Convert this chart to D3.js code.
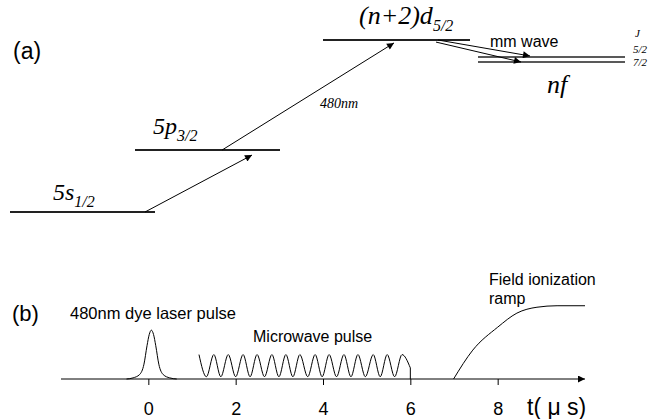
<!DOCTYPE html>
<html>
<head>
<meta charset="utf-8">
<script src="https://cdn.jsdelivr.net/npm/d3@7"></script>
<style>
  body { margin: 0; background: #fff; }
</style>
</head>
<body>
<div id="chart"></div>
<script>
// ---- panel (a): energy levels (schematic units) ----
const levelNames = ["5s", "5p", "(n+2)d", "nf", "nf"];
const levelSubs = ["1/2", "3/2", "5/2", "5/2", "7/2"];
const levelEnergy = [0, 36, 100, 90.1, 87.2];
const levelFrom = [10, 135, 323, 478, 478];
const levelTo = [155, 280, 470, 625, 625];

// transitions: [x, energy] start and end
const arrowStartX = [145, 222, 438, 436];
const arrowStartE = [0, 36, 100, 98.8];
const arrowEndX = [252, 394, 530, 521];
const arrowEndE = [33.1, 98.3, 90.7, 87.2];

// ---- panel (b): timing, t in microseconds ----
const tickValues = [0, 2, 4, 6, 8];

const pulseT = [-0.5, -0.35, -0.2, -0.1, -0.03, 0.02, 0.07, 0.12, 0.17, 0.24, 0.34, 0.49, 0.65];
const pulseV = [0, 0.015, 0.06, 0.2, 0.45, 0.6, 0.66, 0.6, 0.45, 0.2, 0.06, 0.015, 0];

const mwT = [1.16, 1.33, 1.50, 1.66, 1.83, 2.00, 2.17, 2.33, 2.49, 2.66, 2.83, 2.99, 3.15, 3.31,
  3.47, 3.65, 3.82, 3.98, 4.14, 4.31, 4.48, 4.64, 4.80, 4.97, 5.15, 5.31, 5.47, 5.64, 5.81, 6.0];
const mwV = [0.33, 0.03, 0.33, 0.03, 0.33, 0.03, 0.33, 0.03, 0.33, 0.03, 0.33, 0.03, 0.33, 0.03,
  0.33, 0.03, 0.33, 0.03, 0.33, 0.03, 0.33, 0.03, 0.33, 0.03, 0.33, 0.03, 0.33, 0.03, 0.33, 0.15];

const rampT = [6.99, 7.43, 8.0, 8.44, 8.9, 9.36, 10.0];
const rampV = [0, 0.39, 0.70, 0.89, 0.97, 0.99, 0.99];

var width = 665, height = 419;
var SANS = "'Liberation Sans', Arial, Helvetica, sans-serif";
var SERIF = "'Liberation Serif', 'Times New Roman', 'DejaVu Serif', serif";

var svg = d3.select("#chart")
  .append("svg")
  .attr("width", width)
  .attr("height", height);

var defs = svg.append("defs");
defs.append("marker") // filled arrow head
  .attr("id", "head")
  .attr("viewBox", "0 0 10 10")
  .attr("refX", 10).attr("refY", 5)
  .attr("markerUnits", "userSpaceOnUse")
  .attr("markerWidth", 10).attr("markerHeight", 7)
  .attr("orient", "auto")
  .append("path")
  .attr("d", "M0,0L10,5L0,10z")
  .attr("fill", "#000");

function sansText(xp, yp, size, txt) {
  return svg.append("text")
    .attr("x", xp).attr("y", yp)
    .attr("font-family", SANS)
    .attr("font-size", size)
    .attr("fill", "#000")
    .text(txt);
}

function serifText(xp, yp, size) {
  return svg.append("text")
    .attr("x", xp).attr("y", yp)
    .attr("font-family", SERIF)
    .attr("font-style", "italic")
    .attr("font-size", size)
    .attr("fill", "#000");
}

// scales for panel a
var xA = d3.scaleLinear().domain([0, 665]).range([0, 665]);
var yA = d3.scaleLinear().domain([0, 100]).range([212, 40]);

sansText(13, 59, 23, "(a)");

svg.selectAll(".level") // levels
  .data(levelEnergy)
  .enter()
  .append("line")
  .attr("class", "level")
  .attr("x1", (d, i) => xA(levelFrom[i]))
  .attr("x2", (d, i) => xA(levelTo[i]))
  .attr("y1", d => yA(d))
  .attr("y2", d => yA(d))
  .attr("stroke", "#222")
  .attr("stroke-width", (d, i) => i < 3 ? 2 : 1.5);

svg.selectAll(".trans") // transitions
  .data(arrowStartX)
  .enter()
  .append("line")
  .attr("class", "trans")
  .attr("x1", d => xA(d))
  .attr("y1", (d, i) => yA(arrowStartE[i]))
  .attr("x2", (d, i) => xA(arrowEndX[i]))
  .attr("y2", (d, i) => yA(arrowEndE[i]))
  .attr("stroke", "#000")
  .attr("stroke-width", 1)
  .attr("marker-end", "url(#head)");

// level labels
var labelPos = [[53, 200, 24], [153, 134, 24], [359, 24, 26]];
labelPos.forEach((p, i) => {
  var t = serifText(p[0], p[1], p[2]);
  t.append("tspan").text(levelNames[i]);
  t.append("tspan").attr("font-size", 16).attr("dy", 7).text(levelSubs[i]);
});

serifText(547, 93, 26).text(levelNames[3]);

// J labels at the right
serifText(635, 37, 11).text("J");
serifText(633, 53, 11).text(levelSubs[3]);
serifText(633, 66, 11).text(levelSubs[4]);

serifText(320, 108, 14).text("480nm");

sansText(490, 47, 16, "mm wave");

// ---- panel b ----
var x = d3.scaleLinear().domain([-2, 10]).range([61, 585]);
var y = d3.scaleLinear().domain([0, 1]).range([379, 305]);

sansText(12, 321, 22, "(b)");

var axis = svg.append("g") // time axis
  .attr("transform", `translate(0,${y(0)})`)
  .call(d3.axisBottom(x).tickValues(tickValues).tickSize(6).tickSizeOuter(0));
axis.select(".domain").remove();
axis.selectAll(".tick line").attr("stroke", "#000");
axis.selectAll(".tick text")
  .attr("font-family", SANS)
  .attr("font-size", 18)
  .attr("fill", "#000")
  .attr("y", 36).attr("dy", 0);
axis.attr("font-family", SANS).attr("font-size", 18);

svg.append("line")
  .attr("x1", x(-2)).attr("x2", x(10))
  .attr("y1", y(0)).attr("y2", y(0))
  .attr("stroke", "#000")
  .attr("stroke-width", 1)
  .attr("marker-end", "url(#head)");

var line = d3.line()
  .x(d => x(d[0]))
  .y(d => y(d[1]))
  .curve(d3.curveMonotoneX);

svg.append("path") // laser pulse
  .attr("d", line(pulseT.map((t, i) => [t, pulseV[i]])))
  .attr("fill", "none").attr("stroke", "#000").attr("stroke-width", 1);

var mwPts = mwT.map((t, i) => [t, mwV[i]]);
svg.append("path") // microwave pulse
  .attr("d", line(mwPts))
  .attr("fill", "none").attr("stroke", "#000").attr("stroke-width", 1);
svg.append("line") // end of microwave pulse
  .attr("x1", x(mwT[mwT.length - 1])).attr("x2", x(mwT[mwT.length - 1]))
  .attr("y1", y(mwV[mwV.length - 1])).attr("y2", y(0))
  .attr("stroke", "#000");

svg.append("path") // field ionization ramp
  .attr("d", line(rampT.map((t, i) => [t, rampV[i]])))
  .attr("fill", "none").attr("stroke", "#000").attr("stroke-width", 1);

// annotations
sansText(70, 319, 16.5, "480nm dye laser pulse");
sansText(253, 342, 16, "Microwave pulse");
sansText(489, 285, 16, "Field ionization");
sansText(489, 304, 16, "ramp");
sansText(527, 415, 23, "t( μ s)");
</script>
</body>
</html>
